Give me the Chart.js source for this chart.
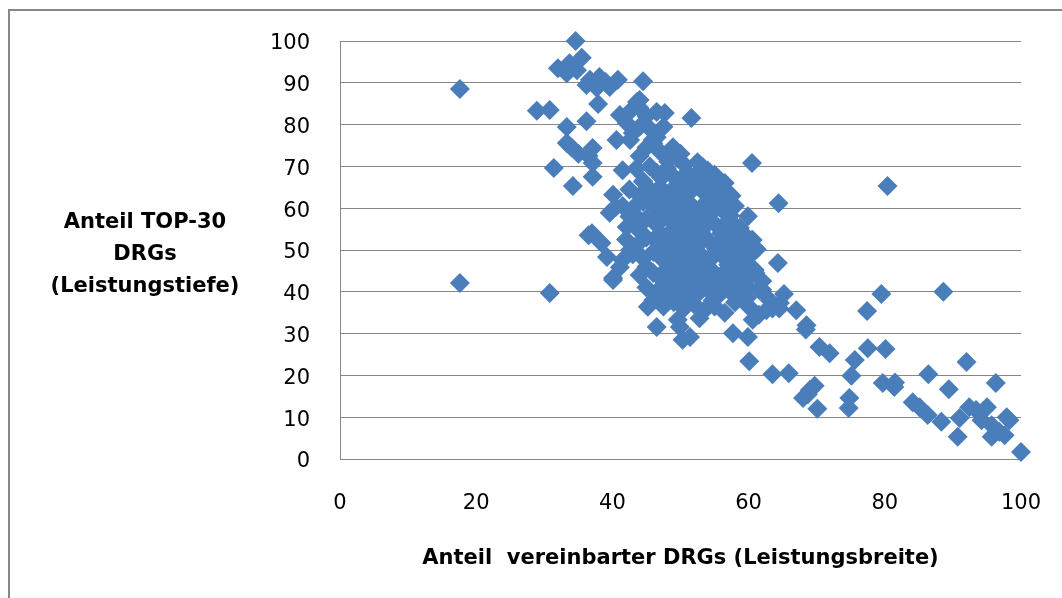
<!DOCTYPE html>
<html>
<head>
<meta charset="utf-8">
<script src="https://cdn.jsdelivr.net/npm/chart.js@4"></script>
<style>
  body { margin: 0; background: #fff; overflow: hidden; }
  #wrap { position: relative; width: 1062px; height: 598px; overflow: hidden; }
  #chart { position: absolute; left: 0; top: 0; }
  #ytitle { position: absolute; left: 25px; top: 205px; width: 240px; text-align: center;
            font: bold 21px "DejaVu Sans"; line-height: 32px; color: #000; }
</style>
</head>
<body>
<div id="wrap">
  <canvas id="chart" width="1062" height="598"></canvas>
  <div id="ytitle">Anteil TOP-30<br>DRGs<br>(Leistungstiefe)</div>
</div>
<script>
// Achsen
const xTicks = [0, 20, 40, 60, 80, 100];
const yTicks = [0, 10, 20, 30, 40, 50, 60, 70, 80, 90, 100];

// Leistungsbreite (x) und Leistungstiefe (y), gruppiert nach Bereichen
// Ausreißer und oberer linker Arm
const armX = [17.6, 17.6, 30.8, 28.9, 30.8, 31.4, 34.2, 34.6, 32.0, 33.7, 35.5, 33.3, 34.8, 36.7, 38.1, 39.6, 40.8, 37.7,
  36.2, 39.0, 44.5, 37.9, 33.3, 36.2, 43.6, 41.1, 42.5, 42.1, 40.6, 44.0, 45.0, 47.7, 51.6, 46.5, 33.3, 34.0, 35.0, 37.1,
  36.5, 37.1, 37.1, 41.5, 40.1, 39.6, 37.0, 38.4, 36.5, 39.2, 40.1, 41.1, 40.1, 46.5, 48.9, 45.5, 44.0, 43.0, 47.5, 46.0,
  50.0, 42.6, 45.9, 44.5, 43.6, 40.5, 42.1, 42.6, 41.5, 44.0];
const armY = [88.5, 42.1, 39.7, 83.3, 83.5, 69.6, 65.3, 100, 93.5, 94.7, 96.0, 92.3, 93.0, 90.7, 91.4, 89.0, 90.7, 88.8,
  89.5, 90.2, 90.4, 84.9, 79.4, 80.8, 85.4, 82.3, 83.0, 80.4, 76.3, 84.0, 82.0, 82.8, 81.6, 83.0, 75.6, 74.5, 73.0, 74.4,
  72.5, 70.8, 67.5, 69.1, 63.2, 58.9, 54.0, 51.7, 53.5, 48.3, 43.3, 45.9, 42.8, 77.0, 74.6, 79.0, 79.5, 78.0, 79.5, 75.5,
  73.0, 76.3, 76.3, 66.3, 57.9, 60.3, 55.5, 50.0, 47.6, 85.9];

// dichter Kern
const kernX = [47, 49.5, 50.5, 52.5, 54, 53, 45, 44,
  45.5, 46.5, 48, 49, 51, 52, 55, 56.5, 43.5, 44.5,
  42.5, 44, 45.5, 47, 48.5, 50, 51.5, 53, 54.5, 56, 57.5,
  41.5, 43, 44.5, 46, 47.5, 49, 50.5, 52, 53.5, 55, 56.5, 58, 42.5,
  43.5, 45, 46.5, 48, 49.5, 51, 52.5, 54, 55.5, 57, 58.5, 44, 47, 50, 53,
  42, 43.5, 45, 46.5, 48, 49.5, 51, 52.5, 54, 55.5, 57, 58.5, 56, 59.5,
  43, 44.5, 46, 47.5, 49, 50.5, 52, 53.5, 55, 56.5, 58, 45, 48, 51, 54, 57,
  44, 46, 47.5, 49, 50.5, 52, 53.5, 55, 56.5, 58, 59.5, 61,
  45, 46.5, 48, 49.5, 51, 52.5, 54, 55.5, 57, 58.5, 60, 62,
  46, 47.5, 49, 50.5, 52, 53.5, 55, 56.5, 58, 60, 61.5, 63.5];
const kernY = [73.5, 72, 70.5, 71, 69, 67.5, 74.5, 72.5,
  70, 68.5, 69.5, 67.5, 68.5, 66.5, 68, 66, 69.5, 66.5,
  64.5, 63, 64.5, 65, 64, 65.5, 64, 64.5, 63.5, 62.5, 63,
  60.5, 60, 61.5, 60.5, 62, 61, 62.5, 60, 61, 59.5, 59, 60.5, 58,
  56.5, 57.5, 56, 58, 56.5, 57.5, 56, 57.5, 55.5, 56.5, 55, 54.5, 54, 55, 54.5,
  52.5, 51, 53, 52, 51, 53, 52, 51, 52.5, 51.5, 53, 52, 54, 53.5,
  49, 48, 49.5, 47.5, 49, 47.5, 49.5, 48, 49, 48, 49.5, 46, 45.5, 45, 46, 46.5,
  44, 44.5, 42.5, 44, 43, 44, 42.5, 44.5, 43, 44, 43, 44.5,
  41, 40, 41.5, 40, 41, 39.5, 40.5, 39, 40.5, 39.5, 41, 40.5,
  38, 36.5, 37.5, 36, 37, 35.5, 36.5, 35, 37.5, 36.5, 34.5, 36];

// Lücken im Kern
const fuellX = [48.2, 50.8, 53.3, 47.2, 49.7, 52.2, 54.7, 46.3, 48.8, 51.3, 53.8, 56.3, 47.3, 49.8, 52.3, 54.8, 57.3,
  46.2, 48.7, 51.2, 53.7, 56.2, 47.7, 50.2, 52.7, 55.2, 57.7, 46.8, 49.3, 51.8, 54.3, 56.8, 48.3, 50.8, 53.3, 55.8,
  47.2, 49.7, 52.2, 54.7, 50.3, 53.0, 57.8, 59.0, 60.3, 61.2, 62.0, 59.8];
const fuellY = [71.2, 68.2, 69.8, 67.3, 65.2, 67.8, 66.2, 63.2, 62.8, 61.2, 63.2, 64.2, 59.2, 59.7, 58.7, 61.8, 58.2,
  57.1, 54.6, 53.7, 55.9, 55.6, 52.9, 50.5, 52.8, 50.3, 50.8, 50.6, 46.3, 47.1, 47.6, 45.3, 43.1, 44.6, 45.1, 41.7,
  39.1, 41.2, 42.1, 37.9, 38.8, 40.8, 42.7, 47.2, 48.8, 50.2, 42.6, 38.6];

// rechter Rand des Kerns und untere Ausläufer
const randX = [55.8, 57.2, 58.7, 59.4, 60.5, 58.0, 59.4, 60.9, 57.2, 58.7, 61.6, 63.1, 65.2, 64.5,
  60.5, 64.4, 59.9, 64.3, 60.6, 57.0,
  45.2, 46.5, 49.9, 50.3, 51.4, 52.8, 49.6, 57.7, 59.9, 60.6, 62.6, 64.6, 67.0, 68.4, 68.5];
const randY = [60.8, 57.2, 55.3, 51.2, 52.4, 47.6, 45.7, 45.2, 42.3, 40.4, 40.4, 38.0, 39.5, 36.0,
  70.8, 61.2, 58.1, 46.9, 52.4, 61.0,
  36.4, 31.6, 31.6, 28.5, 29.2, 33.7, 33.3, 30.1, 29.2, 33.3, 35.6, 37.3, 35.6, 31.0, 32.0];

// rechter Schwanz
const schwanzX = [77.4, 70.4, 71.9, 75.6, 77.5, 80.1, 60.1, 63.5, 65.9, 75.1, 69.7, 69.0, 68.0, 68.7, 70.1, 74.8, 74.7,
  79.7, 81.4, 81.5, 86.4, 89.4, 92.0, 96.3, 84.1, 85.1, 86.3, 88.3, 90.7, 91.0, 92.4, 93.4, 95.0, 94.2, 95.7, 97.9, 98.3,
  96.8, 97.6, 95.7, 100, 88.6, 79.5, 80.4];
const schwanzY = [35.4, 26.8, 25.3, 23.7, 26.5, 26.3, 23.4, 20.3, 20.5, 19.9, 17.5, 16.5, 14.6, 15.5, 12.0, 14.6, 12.2,
  18.2, 17.2, 18.3, 20.3, 16.7, 23.2, 18.2, 13.6, 12.4, 10.5, 8.9, 5.3, 9.8, 12.4, 11.7, 12.4, 9.3, 8.1, 10.0, 9.3,
  6.5, 5.7, 5.3, 1.7, 40.0, 39.5, 65.3];

const breite = [...armX, ...kernX, ...fuellX, ...randX, ...schwanzX];
const tiefe = [...armY, ...kernY, ...fuellY, ...randY, ...schwanzY];

const tickFont = { family: "DejaVu Sans", size: 21 };

// grauer Rahmen oben und links (wie im Original angeschnitten)
const rahmen = {
    id: "rahmen",
    beforeDraw(chart) {
        const c = chart.ctx;
        c.save();
        c.strokeStyle = "#878787";
        c.lineWidth = 2;
        c.beginPath();
        c.moveTo(9, chart.height);
        c.lineTo(9, 10);
        c.lineTo(chart.width, 10);
        c.stroke();
        c.restore();
    }
};

const ctx = document.getElementById("chart").getContext("2d");
const chart = new Chart(ctx, {
    type: "scatter",
    data: {
        datasets: [{
            data: breite.map((x, i) => ({ x: x, y: tiefe[i] })),
            pointStyle: "rectRot",
            pointRadius: 10,
            pointHoverRadius: 10,
            backgroundColor: "#4A7EBB",
            borderColor: "#4A7EBB",
            borderWidth: 0,
            clip: false
        }]
    },
    options: {
        responsive: false,
        animation: false,
        devicePixelRatio: 1,
        layout: { padding: { left: 0, right: 41, top: 41, bottom: 0 } },
        plugins: { legend: { display: false }, tooltip: { enabled: false } },
        scales: {
            x: {
                type: "linear",
                min: 0,
                max: 100,
                afterBuildTicks: s => { s.ticks = xTicks.map(v => ({ value: v })); },
                afterFit: s => { s.height = 139; s.paddingLeft = 0; s.paddingRight = 0; },
                grid: { display: false, drawTicks: false },
                border: { display: true, color: "#878787", width: 1 },
                ticks: { padding: 32, font: tickFont, color: "#000", maxRotation: 0 },
                title: {
                    display: true,
                    text: "Anteil  vereinbarter DRGs (Leistungsbreite)",
                    font: { family: "DejaVu Sans", size: 21, weight: "bold" },
                    color: "#000",
                    padding: { top: 0, bottom: 27 }
                }
            },
            y: {
                min: 0,
                max: 100,
                afterBuildTicks: s => { s.ticks = yTicks.map(v => ({ value: v })); },
                afterFit: s => { s.width = 340; s.paddingTop = 0; s.paddingBottom = 0; },
                grid: { color: "#878787", lineWidth: 1, drawTicks: false },
                border: { display: true, color: "#878787", width: 1 },
                ticks: { padding: 30, labelOffset: 3, font: tickFont, color: "#000" }
            }
        }
    },
    plugins: [rahmen]
});
</script>
</body>
</html>
